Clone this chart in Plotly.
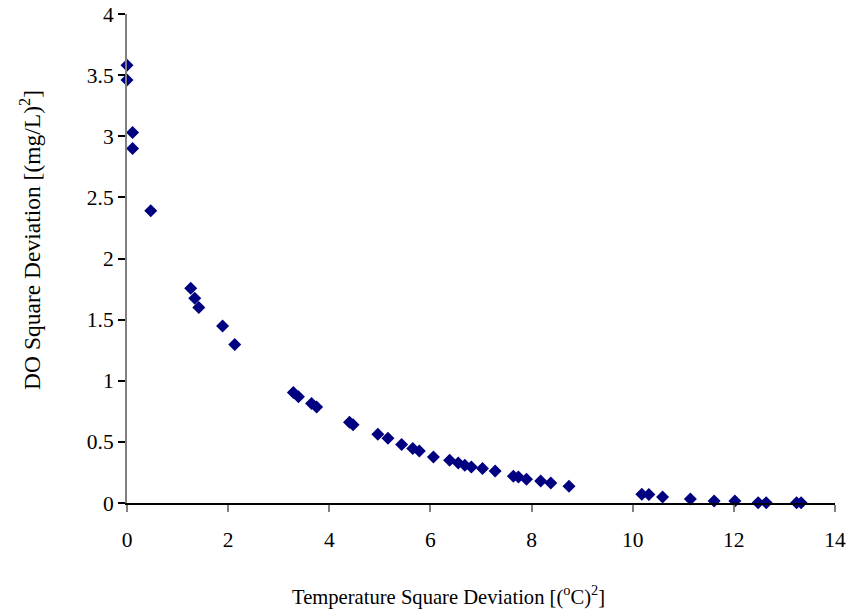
import plotly.graph_objects as go

temp_sq_dev = [0.0, 0.0, 0.11, 0.11, 0.47,
               1.26, 1.34, 1.42, 1.89, 2.13,
               3.29, 3.39, 3.65, 3.75, 4.40, 4.47,
               4.96, 5.16, 5.43, 5.65, 5.78, 6.06, 6.38, 6.55, 6.68, 6.81,
               7.03, 7.28, 7.64, 7.74, 7.90, 8.18, 8.38, 8.74,
               10.18, 10.32, 10.59, 11.14, 11.61, 12.02, 12.48, 12.64, 13.24, 13.33]
do_sq_dev = [3.58, 3.46, 3.03, 2.90, 2.39,
             1.756, 1.674, 1.60, 1.447, 1.297,
             0.904, 0.869, 0.814, 0.786, 0.66, 0.64,
             0.563, 0.53, 0.478, 0.445, 0.426, 0.377, 0.35, 0.328, 0.309, 0.295,
             0.282, 0.262, 0.219, 0.213, 0.194, 0.18, 0.164, 0.137,
             0.071, 0.07, 0.05, 0.033, 0.016, 0.016, 0.003, 0.003, 0.002, 0.002]

x_ticks = [0, 2, 4, 6, 8, 10, 12, 14]
y_ticks = [0, 0.5, 1, 1.5, 2, 2.5, 3, 3.5, 4]
y_tick_text = ["0", "0.5", "1", "1.5", "2", "2.5", "3", "3.5", "4"]

x_title = "Temperature Square Deviation [(<sup>o</sup>C)<sup>2</sup>]"
y_title = "DO Square Deviation [(mg/L)<sup>2</sup>]"

font_family = "Liberation Serif"

fig = go.Figure(go.Scatter(
    x=temp_sq_dev, y=do_sq_dev, mode="markers",
    marker=dict(symbol="diamond", size=10, color="#000080",
                line=dict(width=0)),
    cliponaxis=False,
))

fig.update_layout(
    width=851, height=612,
    paper_bgcolor="white", plot_bgcolor="white",
    margin=dict(l=127, r=16, t=14, b=109),
    font=dict(family=font_family, size=21.5, color="black"),
    showlegend=False,
    annotations=[
        dict(text=x_title, xref="paper", yref="paper", x=0.4534, y=-0.19,
             xanchor="center", yanchor="middle", showarrow=False,
             font=dict(family=font_family, size=20.6)),
        dict(text=y_title, xref="paper", yref="paper", x=-0.137, y=0.538,
             xanchor="center", yanchor="middle", showarrow=False,
             textangle=-90, font=dict(family=font_family, size=23.5)),
    ],
)
fig.update_xaxes(
    range=[0, 14], tickvals=x_ticks, ticktext=[str(v) for v in x_ticks],
    showgrid=False, zeroline=False,
    showline=True, linecolor="black", linewidth=1.5,
    ticks="outside", ticklen=7, tickcolor="#808080", tickwidth=2,
    ticklabelstandoff=9,
    tickfont=dict(family=font_family, size=21.5),
    automargin=False,
)
fig.update_yaxes(
    range=[0, 4], tickvals=y_ticks, ticktext=y_tick_text,
    showgrid=False, zeroline=False,
    showline=True, linecolor="#808080", linewidth=2,
    ticks="outside", ticklen=7, tickcolor="black", tickwidth=1.5,
    tickfont=dict(family=font_family, size=21.5),
    automargin=False,
)

# remove the default 8px page margin so the figure sits at the window's corner
fig.write_html("out.html", config={"displayModeBar": False},
               post_script="document.body.style.margin='0';")
